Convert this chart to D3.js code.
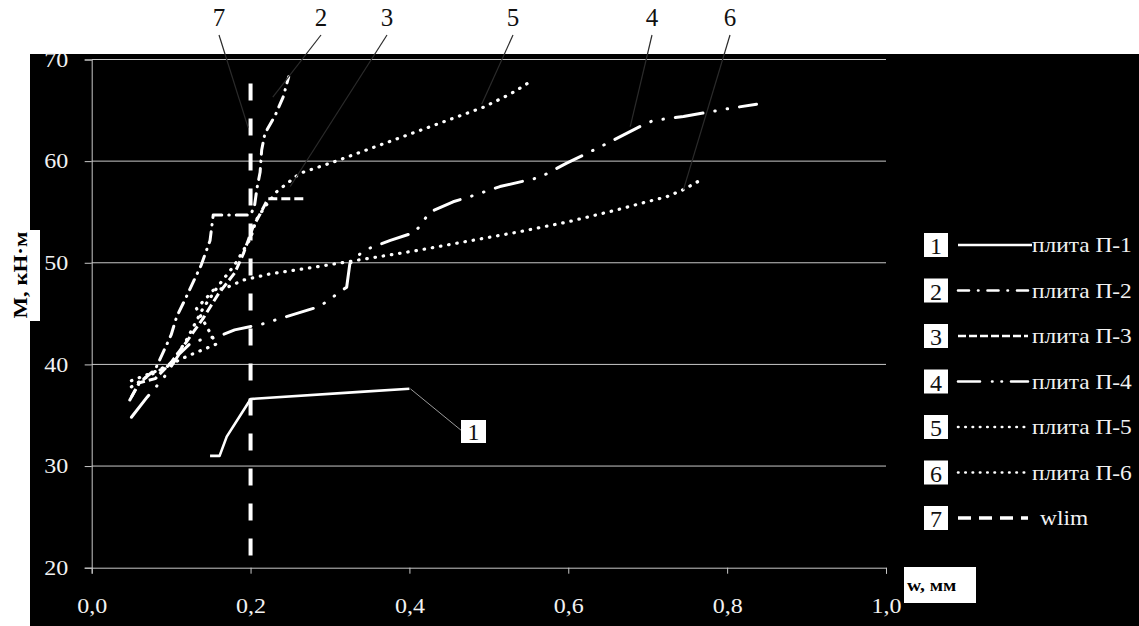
<!DOCTYPE html>
<html>
<head>
<meta charset="utf-8">
<script src="https://cdn.jsdelivr.net/npm/d3@7"></script>
<style>
  body { margin: 0; background: #fff; }
  svg text { font-family: "Liberation Serif", "Times New Roman", serif; }
</style>
</head>
<body>
<div id="chart"></div>
<script>
// series: [w, M] pairs
var seriesNames = ['плита П-1', 'плита П-2', 'плита П-3', 'плита П-4', 'плита П-5', 'плита П-6', 'wlim'];
var seriesNums = ['1', '2', '3', '4', '5', '6', '7'];

var p1 = [[0.149, 31.0], [0.161, 31.0], [0.17, 32.9], [0.197, 36.2], [0.2, 36.6], [0.338, 37.3], [0.4, 37.6]];
var p2 = [[0.048, 36.5], [0.06, 38.2], [0.08, 39.5], [0.1, 42.9], [0.107, 44.7], [0.117, 46.3], [0.138, 49.8],
          [0.149, 52.2], [0.153, 54.7], [0.2, 54.7], [0.205, 55.6], [0.208, 57.3], [0.212, 58.9], [0.214, 61.1],
          [0.218, 62.7], [0.231, 64.5], [0.241, 66.3], [0.248, 68.3]];
var p3 = [[0.05, 36.8], [0.06, 38.2], [0.08, 38.6], [0.1, 40.2], [0.12, 42.3], [0.14, 44.5], [0.16, 47.0],
          [0.18, 49.0], [0.191, 50.9], [0.197, 52.2], [0.203, 53.5], [0.212, 54.8], [0.222, 56.3], [0.27, 56.3]];
var p4 = [[0.05, 34.8], [0.07, 36.8], [0.09, 38.6], [0.11, 41.0], [0.126, 42.2], [0.164, 42.9], [0.18, 43.4],
          [0.216, 44.0], [0.287, 45.7], [0.321, 47.6], [0.325, 49.9], [0.342, 51.2], [0.376, 52.2], [0.407, 53.0],
          [0.426, 55.0], [0.455, 56.0], [0.476, 56.5], [0.514, 57.5], [0.564, 58.4], [0.598, 59.8], [0.64, 61.4],
          [0.69, 63.4], [0.707, 64.0], [0.745, 64.4], [0.804, 65.2], [0.837, 65.6]];
var p5 = [[0.05, 37.8], [0.07, 38.8], [0.1, 40.0], [0.12, 42.5], [0.14, 45.5], [0.16, 47.8], [0.18, 49.8],
          [0.2, 52.4], [0.207, 54.2], [0.218, 55.5], [0.233, 57.0], [0.262, 58.8], [0.304, 59.9], [0.367, 61.7],
          [0.43, 63.5], [0.493, 65.3], [0.527, 66.6], [0.554, 67.9]];
var p6 = [[0.05, 38.4], [0.08, 39.3], [0.12, 40.8], [0.157, 42.0], [0.132, 45.5], [0.145, 46.6], [0.153, 47.3],
          [0.168, 47.5], [0.191, 48.3], [0.224, 48.9], [0.283, 49.6], [0.346, 50.4], [0.409, 51.2], [0.472, 52.1],
          [0.535, 53.0], [0.598, 54.0], [0.661, 55.2], [0.699, 56.0], [0.724, 56.5], [0.745, 57.2], [0.768, 58.2]];
var p7 = [[0.2, 21.2], [0.2, 69.2]];

var allSeries = [p1, p2, p3, p4, p5, p6, p7];

var xTicks = [0, 0.2, 0.4, 0.6, 0.8, 1.0];
var yTicks = [20, 30, 40, 50, 60, 70];

// callout labels: number, anchor point on curve [w, M]
var callNums = ['7', '2', '3', '5', '4', '6'];
var callAt = [[0.197, 63.3], [0.228, 66.3], [0.25, 57.5], [0.491, 65.6], [0.678, 63.4], [0.745, 57.2]];
var callX = [219, 321, 387, 513, 652, 730];

var W = 1139, H = 626;
var col_bg = '#000';
var col_grid = '#c8c8c8';
var col_txt = '#f2f2f2';
var col_lead = '#2b2b2b';
var serif = '"Liberation Serif", "Times New Roman", serif';
var stretch = 'scale(1.2,1)';   // the picture's text is widened

var dashes = ['none', '11,7,0.5,7', '9,4', '28,12,0.5,12,0.5,12', '0.5,7.8', '0.5,7.8', '17,18'];
var caps = ['butt', 'round', 'butt', 'round', 'round', 'round', 'butt'];
var widths = [2.6, 3, 3, 3, 3.2, 3.2, 4];
var legDash = ['none', '11,9,0.5,9', '8,3', '22,12,0.5,9,0.5,9', '0.5,6.8', '0.5,6.8', '13,8'];

var svg = d3.select('#chart').append('svg')
    .attr('width', W)
    .attr('height', H);

svg.append('rect')
    .attr('x', 30).attr('y', 54)
    .attr('width', W - 30).attr('height', H - 54)
    .attr('fill', col_bg);

var x = d3.scaleLinear().domain([0, 1]).range([91.7, 886]);
var y = d3.scaleLinear().domain([20, 70]).range([567.7, 59.5]);

// gridlines
svg.append('g').selectAll('line')
    .data(yTicks.slice(1))
    .enter().append('line')
    .attr('x1', x(0)).attr('x2', x(1))
    .attr('y1', function(d) { return y(d); })
    .attr('y2', function(d) { return y(d); })
    .attr('stroke', col_grid)
    .attr('stroke-width', 1);

var yAxis = svg.append('g')
    .attr('transform', 'translate(' + x(0) + ',0)')
    .call(d3.axisLeft(y).tickValues(yTicks).tickSize(7).tickPadding(12.5).tickFormat(d3.format('d')));

var xAxis = svg.append('g')
    .attr('transform', 'translate(0,' + y(20) + ')')
    .call(d3.axisBottom(x).tickValues(xTicks).tickSize(6).tickPadding(25)
        .tickFormat(function(d) { return d3.format('.1f')(d).replace('.', ','); }));

[xAxis, yAxis].forEach(function(a) {
    a.attr('font-family', serif).attr('font-size', 20);
    a.select('.domain').attr('stroke', col_grid);
    a.selectAll('.tick line').attr('stroke', col_grid);
    a.selectAll('.tick text').attr('fill', col_txt).attr('transform', stretch);
});
yAxis.selectAll('.tick text').attr('dy', '0.34em');

// lines
var line = d3.line()
    .x(function(d) { return x(d[0]); })
    .y(function(d) { return y(d[1]); });

svg.append('g').selectAll('path')
    .data(allSeries)
    .enter().append('path')
    .attr('d', line)
    .attr('fill', 'none')
    .attr('stroke', '#fff')
    .attr('stroke-width', function(d, i) { return widths[i]; })
    .attr('stroke-dasharray', function(d, i) { return dashes[i]; })
    .attr('stroke-linecap', function(d, i) { return caps[i]; })
    .attr('stroke-linejoin', 'round');

// callouts at the top
var calls = svg.append('g').attr('font-family', serif);
callNums.forEach(function(n, i) {
    calls.append('line')
        .attr('x1', callX[i]).attr('y1', 35)
        .attr('x2', x(callAt[i][0])).attr('y2', y(callAt[i][1]))
        .attr('stroke', col_lead)
        .attr('stroke-width', 1.2);
    calls.append('text')
        .attr('x', callX[i]).attr('y', 26)
        .attr('text-anchor', 'middle')
        .attr('font-size', 25)
        .attr('fill', '#111')
        .text(n);
});

// callout 1 with a box
calls.append('line')
    .attr('x1', x(0.4) + 1).attr('y1', y(37.6))
    .attr('x2', 462).attr('y2', 431)
    .attr('stroke', '#9a9a9a')
    .attr('stroke-width', 1);
calls.append('rect')
    .attr('x', 461).attr('y', 420).attr('width', 25).attr('height', 23)
    .attr('fill', '#fff');
calls.append('text')
    .attr('x', 473.5).attr('y', 440)
    .attr('text-anchor', 'middle')
    .attr('font-size', 24)
    .attr('fill', '#111')
    .text('1');

// legend
var legY0 = 245, legStep = 45.5;
var leg = svg.append('g').attr('font-family', serif).selectAll('g')
    .data(seriesNames)
    .enter().append('g')
    .attr('transform', function(d, i) { return 'translate(0,' + (legY0 + i * legStep) + ')'; });

leg.append('rect')
    .attr('x', 924).attr('y', -12).attr('width', 24).attr('height', 24)
    .attr('fill', '#fff');
leg.append('text')
    .attr('x', 936).attr('y', 9)
    .attr('text-anchor', 'middle')
    .attr('font-size', 24)
    .attr('fill', '#111')
    .text(function(d, i) { return seriesNums[i]; });
leg.append('line')
    .attr('x1', 958).attr('x2', function(d, i) { return i == 0 ? 1032 : 1028; })
    .attr('y1', 0).attr('y2', 0)
    .attr('stroke', '#fff')
    .attr('stroke-width', function(d, i) { return i == 6 ? 3.5 : 2.6; })
    .attr('stroke-dasharray', function(d, i) { return legDash[i]; })
    .attr('stroke-linecap', function(d, i) { return caps[i]; });
leg.append('text')
    .attr('transform', function(d, i) { return 'translate(' + (i == 6 ? 1040 : 1032) + ',7) scale(1.17,1)'; })
    .attr('font-size', 20)
    .attr('fill', col_txt)
    .text(function(d) { return d; });

// axis titles
svg.append('rect')
    .attr('x', 0).attr('y', 230).attr('width', 40).attr('height', 91)
    .attr('fill', '#fff');
svg.append('text')
    .attr('transform', 'translate(27,275) rotate(-90) scale(1.2,1)')
    .attr('text-anchor', 'middle')
    .attr('font-family', serif)
    .attr('font-size', 19)
    .attr('font-weight', 'bold')
    .attr('fill', '#000')
    .text('M, кН·м');

svg.append('rect')
    .attr('x', 904).attr('y', 567).attr('width', 72).attr('height', 36)
    .attr('fill', '#fff');
svg.append('text')
    .attr('transform', 'translate(907,591) scale(1.15,1)')
    .attr('font-family', serif)
    .attr('font-size', 17)
    .attr('font-weight', 'bold')
    .attr('fill', '#000')
    .text('w, мм');
</script>
</body>
</html>
